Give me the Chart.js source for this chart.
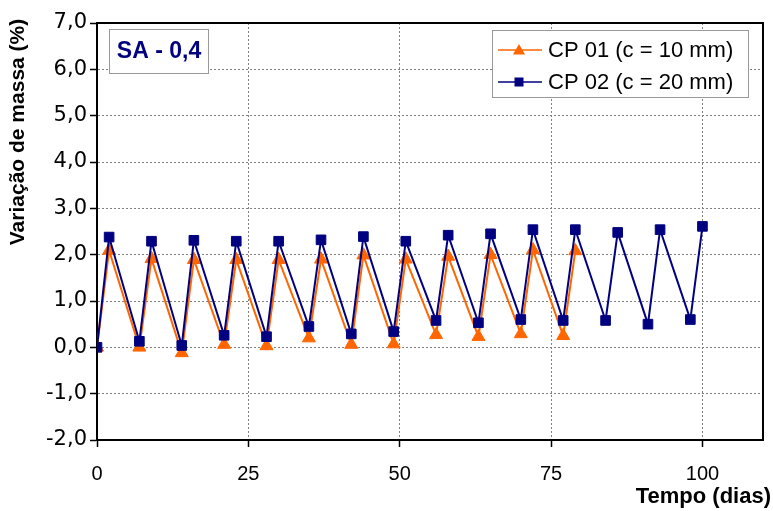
<!DOCTYPE html>
<html><head><meta charset="utf-8">
<script src="https://cdn.jsdelivr.net/npm/chart.js@4"></script>
<style>html,body{margin:0;padding:0;background:#fff}</style>
</head><body>
<canvas id="c" width="773" height="511"></canvas>
<script>
const daysCP01  = [0, 2, 7, 9, 14, 16, 21, 23, 28, 30, 35, 37, 42, 44, 49, 51, 56, 58, 63, 65, 70, 72, 77, 79];
const massaCP01 = [0.0, 2.09, 0.0, 1.91, -0.12, 1.89, 0.06, 1.89, 0.03, 1.89, 0.2, 1.9, 0.06, 1.99, 0.07, 1.9, 0.27, 1.96, 0.23, 2.0, 0.29, 2.1, 0.25, 2.08];
const daysCP02  = [0, 2, 7, 9, 14, 16, 21, 23, 28, 30, 35, 37, 42, 44, 49, 51, 56, 58, 63, 65, 70, 72, 77, 79, 84, 86, 91, 93, 98, 100];
const massaCP02 = [0.0, 2.38, 0.13, 2.29, 0.04, 2.31, 0.26, 2.29, 0.23, 2.29, 0.45, 2.32, 0.29, 2.39, 0.34, 2.29, 0.58, 2.42, 0.53, 2.45, 0.6, 2.54, 0.58, 2.54, 0.58, 2.48, 0.5, 2.54, 0.6, 2.61];
const xTicks = [0, 25, 50, 75, 100];
const yTicks = [-2, -1, 0, 1, 2, 3, 4, 5, 6, 7];
const seriesNames = ['CP 01 (c = 10 mm)', 'CP 02 (c = 20 mm)'];
const boxLabel = 'SA - 0,4';
const xTitle = 'Tempo (dias)';
const yTitle = 'Variação de massa (%)';

const ORANGE = '#FF6600', NAVY = '#000080';
const FONT = '"Liberation Sans", Arial, sans-serif';

function tri(ctx, x, y, r) {
  ctx.beginPath();
  ctx.moveTo(x, y - r);
  ctx.lineTo(x + r * 0.866, y + r * 0.5);
  ctx.lineTo(x - r * 0.866, y + r * 0.5);
  ctx.closePath(); ctx.fill();
}

const decor = {
  id: 'decor',
  beforeDatasetsDraw(chart) {
    const {ctx, chartArea: a} = chart;
    ctx.save();
    ctx.strokeStyle = '#000'; ctx.lineWidth = 2;
    ctx.strokeRect(a.left, a.top, a.right - a.left, a.bottom - a.top);
    ctx.restore();
  },
  afterDraw(chart) {
    const {ctx} = chart;
    ctx.save();
    // y title
    ctx.save();
    ctx.translate(18, 132);
    ctx.rotate(-Math.PI / 2);
    ctx.font = 'bold 21px ' + FONT;
    ctx.fillStyle = '#000'; ctx.textAlign = 'center'; ctx.textBaseline = 'middle';
    ctx.fillText(yTitle, 0, 0);
    ctx.restore();
    // x title
    ctx.font = 'bold 22px ' + FONT;
    ctx.fillStyle = '#000'; ctx.textAlign = 'right'; ctx.textBaseline = 'middle';
    ctx.fillText(xTitle, 771, 497);
    // SA box
    ctx.fillStyle = '#fff';
    ctx.fillRect(109.5, 29.5, 99, 44);
    ctx.strokeStyle = '#999'; ctx.lineWidth = 1;
    ctx.strokeRect(109.5, 29.5, 99, 44);
    ctx.font = 'bold 23px ' + FONT;
    ctx.fillStyle = NAVY; ctx.textAlign = 'center'; ctx.textBaseline = 'middle';
    ctx.fillText(boxLabel, 159, 52);
    // legend
    ctx.fillStyle = '#fff';
    ctx.fillRect(492.5, 30.5, 256, 67);
    ctx.strokeStyle = '#999';
    ctx.strokeRect(492.5, 30.5, 256, 67);
    const rows = [[50, ORANGE, 'tri', seriesNames[0]], [82, NAVY, 'rect', seriesNames[1]]];
    ctx.font = '22px ' + FONT;
    ctx.textAlign = 'left';
    for (const [y, c, m, t] of rows) {
      ctx.strokeStyle = c; ctx.lineWidth = 1.5;
      ctx.beginPath(); ctx.moveTo(498, y); ctx.lineTo(542, y); ctx.stroke();
      ctx.fillStyle = c;
      if (m === 'tri') tri(ctx, 519, y + 1, 7);
      else ctx.fillRect(514.5, y - 4.5, 9, 9);
      ctx.fillStyle = '#000';
      ctx.fillText(t, 548, y + 1);
    }
    ctx.restore();
  }
};

new Chart(document.getElementById('c'), {
  type: 'line',
  data: {
    datasets: [
      {
        label: seriesNames[1],
        data: daysCP02.map((d, i) => ({x: d, y: massaCP02[i]})),
        borderColor: NAVY, backgroundColor: NAVY,
        pointStyle: 'rect', pointRadius: 6.8, pointBorderWidth: 1,
        borderWidth: 2, tension: 0, order: 1
      },
      {
        label: seriesNames[0],
        data: daysCP01.map((d, i) => ({x: d, y: massaCP01[i]})),
        borderColor: ORANGE, backgroundColor: ORANGE,
        pointStyle: 'triangle', pointRadius: 7.5, pointBorderWidth: 1,
        borderWidth: 2, tension: 0, order: 2
      }
    ]
  },
  options: {
    responsive: false, animation: false, devicePixelRatio: 1,
    layout: {padding: {top: 23, right: 10, left: 0, bottom: 0}},
    plugins: {legend: {display: false}, tooltip: {enabled: false}},
    scales: {
      x: {
        type: 'linear', min: 0, max: 110,
        afterBuildTicks: s => { s.ticks = xTicks.map(v => ({value: v})); },
        afterFit: s => { s.height = 71; },
        ticks: {color: '#000', font: {family: FONT, size: 20}, padding: 15, maxRotation: 0,
                callback: v => String(v)},
        grid: {color: '#808080', lineWidth: 1, tickLength: 7, tickColor: '#000', tickWidth: 1.5, tickBorderDash: []},
        border: {color: '#000', width: 2, dash: [2, 2]}
      },
      y: {
        type: 'linear', min: -2, max: 7,
        afterBuildTicks: s => { s.ticks = yTicks.map(v => ({value: v})); },
        afterFit: s => { s.width = 97; },
        ticks: {color: '#000', font: {family: '"DejaVu Sans", sans-serif', size: 21}, padding: 3,
                callback: v => v.toFixed(1).replace('.', ',')},
        grid: {color: '#808080', lineWidth: 1, tickLength: 7, tickColor: '#000', tickWidth: 1.5, tickBorderDash: []},
        border: {color: '#000', width: 2, dash: [2, 2]}
      }
    }
  },
  plugins: [decor]
});
</script>
</body></html>
